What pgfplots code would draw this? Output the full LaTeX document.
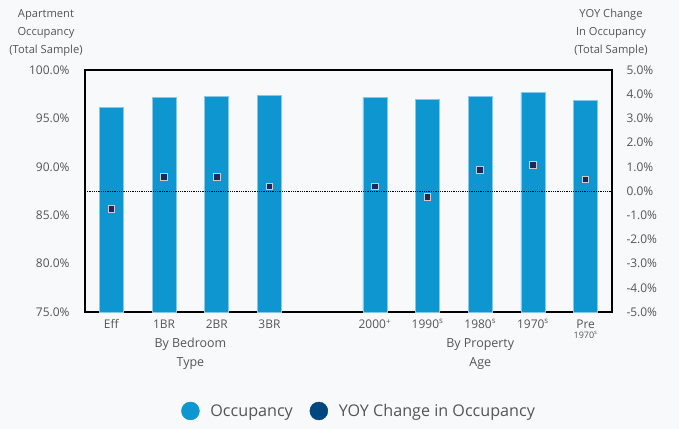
\documentclass[border=0pt]{standalone}
\usepackage{pgfplots}
\pgfplotsset{compat=1.18}
\usepackage{fontspec}
\setmainfont{Open Sans}
\definecolor{occ}{RGB}{14,150,208}
\definecolor{occedge}{RGB}{135,200,232}
\definecolor{yoy}{RGB}{0,70,127}
\definecolor{mk}{RGB}{22,42,100}
\definecolor{txt}{RGB}{85,85,85}
\definecolor{bg}{RGB}{248,249,250}
\begin{document}
\begin{tikzpicture}[x=1bp,y=1bp]
\fill[bg] (0,0) rectangle (679,429);
\useasboundingbox (0,0) rectangle (679,429);
\node[anchor=north, align=center, text=txt, font=\fontsize{11.2}{18}\selectfont] at (46,423) {Apartment\\Occupancy\\(Total Sample)};
\node[anchor=north, align=center, text=txt, font=\fontsize{11.2}{18}\selectfont] at (611,423) {YOY Change\\In Occupancy\\(Total Sample)};
\begin{axis}[
  at={(85bp,117bp)}, anchor=south west,
  scale only axis, width=527bp, height=242bp,
  xmin=-0.5, xmax=9.5, ymin=75, ymax=100,
  ybar, bar width=24bp, bar shift=0pt,
  xtick={0,1,2,3,5,6,7,8,9},
  xticklabels={Eff,1BR,2BR,3BR,2000\textsuperscript{+},1990\textsuperscript{s},1980\textsuperscript{s},1970\textsuperscript{s},{Pre\\[-3pt]{\fontsize{9}{9}\selectfont 1970\textsuperscript{s}}}},
  xticklabel style={align=center, anchor=north, text=txt, font=\fontsize{12}{13}\selectfont, yshift=-4bp},
  ytick={75,80,85,90,95,100},
  ytick pos=left,
  yticklabel={\pgfmathprintnumber[fixed,fixed zerofill,precision=1]{\tick}\%},
  yticklabel style={text=txt, font=\fontsize{12}{13}\selectfont, xshift=-12bp},
  /pgf/number format/assume math mode=true,
  major tick length=0pt,
  axis line style={black, line width=1.3pt},
  clip=true,
]
\addplot[fill=occ, draw=occedge, line width=0.6pt, forget plot] coordinates {(0,96.15) (1,97.14) (2,97.31) (3,97.38) (5,97.18) (6,96.97) (7,97.28) (8,97.66) (9,96.87)};
\end{axis}
\begin{axis}[
  at={(85bp,117bp)}, anchor=south west,
  scale only axis, width=527bp, height=242bp,
  xmin=-0.5, xmax=9.5, ymin=-5, ymax=5,
  axis x line=none, axis y line*=right,
  ytick={-5,-4,-3,-2,-1,0,1,2,3,4,5},
  yticklabel={\pgfmathprintnumber[fixed,fixed zerofill,precision=1]{\tick}\%},
  yticklabel style={text=txt, font=\fontsize{12}{13}\selectfont, anchor=west, xshift=11bp},
  /pgf/number format/assume math mode=true,
  major tick length=0pt,
  axis line style={black, line width=1.3pt},
  clip=false,
  legend columns=2,
  legend style={at={(0.52,-0.409)}, anchor=center, draw=none, fill=none, text=txt,
    font=\fontsize{16.2}{19}\selectfont},
]
\addlegendimage{legend image code/.code={\fill[occ] (0bp,0bp) circle (9bp); \path[draw=none] (9bp,0bp) -- (18bp,0bp);}}
\addlegendentry{Occupancy}
\addlegendimage{legend image code/.code={\fill[yoy] (0bp,0bp) circle (9bp); \path[draw=none] (-24bp,0bp) -- (18bp,0bp);}}
\addlegendentry{YOY Change in Occupancy}
\addplot[densely dotted, black, line width=0.8pt, forget plot] coordinates {(-0.5,0) (9.5,0)};
\addplot[only marks, mark=square*, mark size=3.3bp, mark options={fill=mk, draw=gray!40, line width=1pt}, forget plot] coordinates {(0,-0.74) (1,0.58) (2,0.58) (3,0.18) (5,0.18) (6,-0.24) (7,0.88) (8,1.07) (9,0.48)};
\node[anchor=north, align=center, text=txt, font=\fontsize{12.5}{19}\selectfont, yshift=-23bp] at (axis cs:1.5,-5) {By Bedroom\\Type};
\node[anchor=north, align=center, text=txt, font=\fontsize{12.5}{19}\selectfont, yshift=-23bp] at (axis cs:7,-5) {By Property\\Age};
\end{axis}
\end{tikzpicture}
\end{document}
